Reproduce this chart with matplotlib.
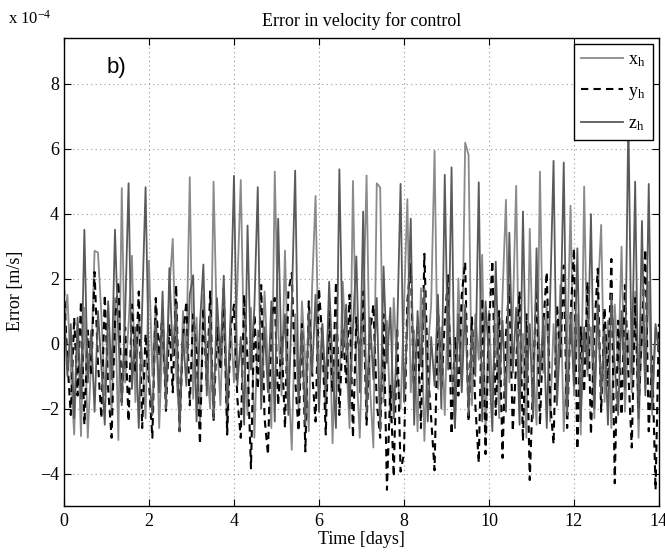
import matplotlib.pyplot as plt
import numpy as np

plt.rcParams['font.family'] = ['Liberation Serif', 'DejaVu Serif']
plt.rcParams['mathtext.fontset'] = 'custom'
plt.rcParams['mathtext.rm'] = 'Liberation Serif'
plt.rcParams['mathtext.it'] = 'Liberation Serif:italic'

# time axis, days (sample step 0.08 d)
t_days = np.arange(176) * 0.08

# errors in units of 1e-4 m/s
x_h = [
    0.4, 1.5, -0.9, -2.8, 0.6, -2.85, 1.1, -2.9, -0.5, 2.85,
    2.8, 0.9, -1.6, 0.3, -2.2, 1.4, -2.97, 4.78, -1.2, 0.6,
    2.7, -1.8, 0.8, -0.4, -2.3, 2.55, -1.0, 1.3, -2.6, 0.2,
    -1.4, 1.7, 3.22, -0.9, -2.4, 1.0, -0.3, 5.12, -1.7, 0.8,
    -2.5, 1.5, -0.6, -2.0, 4.98, 0.3, -1.9, 1.2, -2.8, 0.7,
    -1.2, 1.8, 5.03, -0.5, -2.2, 1.1, -2.9, 0.4, -1.4, 1.6,
    -0.8, -2.6, 5.29, 0.5, -1.6, 2.86, -1.0, -3.27, 0.9, -2.0,
    1.3, -0.6, -2.7, 1.8, 4.54, -1.1, 0.6, -2.2, 1.0, -3.07,
    0.3, -1.5, 1.9, -0.4, -2.6, 5.0, -0.7, -2.9, 0.8, 5.17,
    -1.3, -3.2, 4.93, 4.8, -1.8, 0.7, -2.4, 1.4, -0.9, -2.0,
    1.1, 4.44, -1.5, 0.4, -2.7, 1.7, -3.0, -0.3, 1.2, 5.93,
    -1.4, 0.5, -2.2, 1.6, -0.8, -2.6, 2.0, -1.1, 6.18, 5.8,
    -1.9, 0.9, -0.5, 2.73, -2.8, 1.0, -1.7, 0.6, -2.3, 1.5,
    4.42, -1.2, 0.8, 4.85, -2.0, 0.3, -2.9, 3.53, -0.6, -2.5,
    5.29, -0.9, 1.2, -2.4, 0.6, -1.3, 1.8, -2.7, -0.2, 4.24,
    -1.6, 0.9, -2.8, 4.83, -1.0, 0.5, -2.3, 1.4, 3.65, -1.8,
    0.7, -2.6, 1.2, -0.8, 2.98, -2.1, 0.4, -1.5, 1.6, -2.9,
    0.8, -1.4, 1.9, -2.2, 0.5, -0.3,
]

y_h = [
    1.7, -0.5, -2.2, 0.8, -1.6, 1.3, -2.5, 0.4, -1.0, 2.2,
    -0.6, -2.3, 1.5, -1.4, -2.9, 0.7, 1.9, -1.8, 0.5, -2.4,
    1.2, -0.9, 1.6, -2.6, 0.3, -1.2, -2.9, 1.4, -0.4, 1.0,
    -2.1, 0.6, -1.5, 1.8, -2.7, 0.2, 1.3, -1.9, 0.9, -0.3,
    -3.1, 1.1, -1.3, 1.6, -2.4, 0.5, -0.8, 1.7, -2.8, 0.4,
    1.2, -1.7, -2.9, 1.5, -0.6, -3.84, 0.9, -1.4, 1.8, -2.3,
    -3.42, 0.7, 1.4, -1.9, 0.2, -2.6, 1.6, 2.17, -1.1, -2.7,
    0.6, -3.32, 1.3, -0.9, -2.4, 1.7, 0.1, -2.8, 1.0, -1.5,
    1.9, -2.2, 0.4, -1.2, 1.5, -2.9, 0.8, -0.5, 1.6, -2.5,
    0.3, 1.2, -1.8, -2.9, 0.9, -4.5, -1.3, -4.1, 0.5, -3.94,
    -3.4, 1.3, 2.45, -1.7, 0.6, -2.6, 2.76, -0.8, -2.3, -3.9,
    1.1, -1.4, 0.7, 2.1, -2.8, 0.2, -1.6, 1.5, 2.5, -2.4,
    0.8, -1.9, -3.67, 1.4, -3.4, 0.5, 2.55, -2.2, 1.0, -3.52,
    0.3, 1.8, -2.7, -0.6, 1.6, -3.0, 0.9, -4.2, -1.1, 1.7,
    -2.5, 0.6, 2.2, -1.8, -3.1, 1.2, -0.4, 2.4, -2.6, 0.8,
    2.93, -3.26, 0.5, -1.5, 1.9, -2.8, 0.4, 2.3, -2.1, 1.1,
    -1.3, 2.6, -4.3, 0.7, -2.2, 1.8, -0.9, -3.2, 1.4, -2.0,
    0.5, 2.9, -2.7, -0.4, -4.5, 0.6,
]

z_h = [
    1.2, -1.0, 0.6, -2.3, 0.8, -1.7, 3.5, -1.2, 0.4, -2.1,
    1.0, -0.7, -2.5, 1.3, -1.1, 3.5, 0.2, -1.9, 0.9, 4.93,
    -1.4, 0.5, -2.6, 1.1, 4.81, -0.9, -2.2, 0.7, -1.5, 1.6,
    -2.0, 2.32, -0.4, 1.2, -2.7, 0.3, -1.3, 1.5, 2.1, -2.4,
    0.6, 2.43, -1.6, 0.9, -2.3, 1.4, -0.5, 2.09, -1.9, 0.8,
    5.16, -1.3, 0.2, -2.5, 3.63, -0.8, 1.1, 4.81, -2.0, 0.5,
    -1.5, 1.3, -2.4, 3.84, -0.6, 0.9, -2.2, 1.2, 5.32, -1.7,
    0.4, -2.5, 1.0, -0.9, 1.5, -2.1, 0.6, -1.4, 1.9, -0.7,
    -2.6, 5.36, -0.3, 1.2, -2.0, 0.5, 2.68, -1.5, 4.06, -2.2,
    0.8, -1.1, 1.4, -2.7, 2.37, -0.6, 1.1, -2.3, 0.3, 4.91,
    -1.8, 0.6, 3.84, -2.5, 1.0, -0.7, 1.7, -2.4, 0.2, -1.3,
    1.5, -2.0, 5.19, -0.8, 5.42, -2.6, 0.9, -1.5, 1.2, -2.2,
    0.4, -1.0, 4.96, -2.4, 1.3, -0.5, -2.7, 2.52, -1.2, 0.7,
    -2.1, 3.41, -0.9, 1.1, -2.5, 4.06, -1.4, 0.6, -2.3, 2.93,
    -1.1, 0.8, -2.6, 1.4, 5.62, -1.9, 0.3, 5.57, -2.2, 0.9,
    -1.3, 2.93, -2.4, 0.5, -0.8, 3.98, -2.0, 1.2, -1.6, 0.4,
    -2.5, 1.5, -0.7, -2.2, 1.0, -1.4, 7.0, -0.9, 4.98, -2.3,
    3.77, -1.6, 4.91, -2.0, 0.6, -0.2,
]

xticks = [0, 2, 4, 6, 8, 10, 12, 14]
yticks = [-4, -2, 0, 2, 4, 6, 8]

fig = plt.figure(figsize=(6.65, 5.54), dpi=100)
ax = fig.add_axes([0.0962, 0.0866, 0.8947, 0.8448])

ax.plot(t_days, x_h, color='#8a8a8a', lw=1.3, label=r'x$_\mathrm{h}$')
ax.plot(t_days, y_h, color='black', lw=1.5, ls=(0, (3.5, 2.5)), label=r'y$_\mathrm{h}$')
ax.plot(t_days, z_h, color='#5a5a5a', lw=1.3, label=r'z$_\mathrm{h}$')

ax.set_xlim(0, 14)
ax.set_ylim(-5, 9.4)
ax.set_xticks(xticks)
ax.set_yticks(yticks)
ax.tick_params(direction='in', length=5, labelsize=13, top=True, right=True,
               width=0.8)
ax.tick_params(axis='x', pad=5)
ax.grid(True, color='#9a9a9a', ls=(0, (1, 3)), lw=0.8)
for s in ax.spines.values():
    s.set_linewidth(1.0)

ax.set_title('Error in velocity for control', fontsize=13, pad=9)
ax.set_xlabel('Time [days]', fontsize=13, labelpad=1)
ax.set_ylabel('Error [m/s]', fontsize=13)
ax.yaxis.set_label_coords(-0.068, 0.46)

fig.text(0.012, 0.958, r'x 10$^{-4}$', fontsize=12, ha='left', va='baseline')
ax.text(0.072, 0.936, 'b)', transform=ax.transAxes, fontsize=16,
        family='Liberation Sans', ha='left', va='center')

leg = ax.legend(loc='upper right', fontsize=13, handlelength=2.3,
                labelspacing=0.75, borderaxespad=0.35, handletextpad=0.3,
                fancybox=False, framealpha=1, edgecolor='black',
                borderpad=0.4)
leg.get_frame().set_linewidth(1.0)

fig.savefig('out.png', dpi=100)
